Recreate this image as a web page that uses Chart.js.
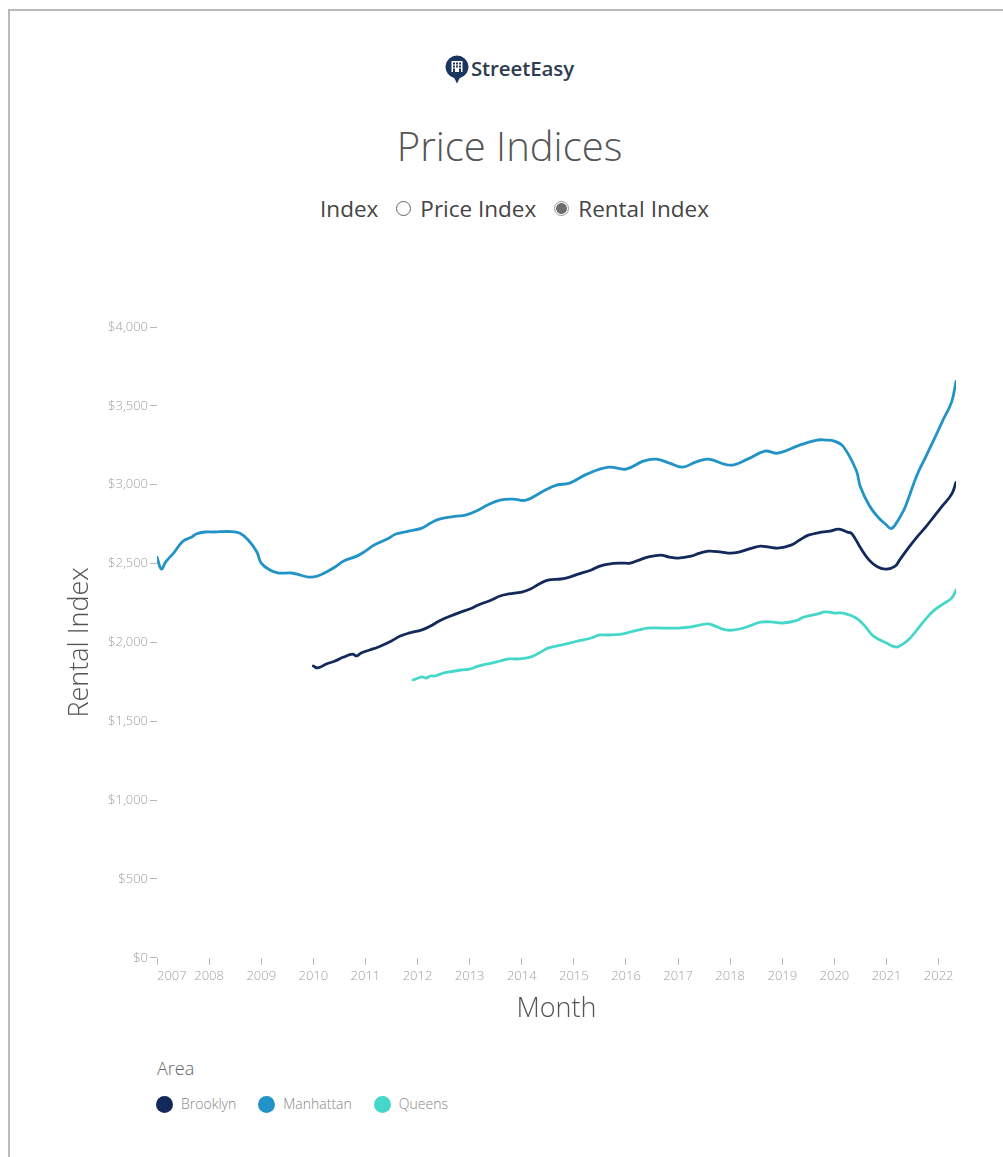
<!DOCTYPE html>
<html>
<head>
<meta charset="utf-8">
<title>Price Indices</title>
<script src="https://cdn.jsdelivr.net/npm/chart.js@4.4.0/dist/chart.umd.min.js"></script>
<style>
  html, body { margin: 0; padding: 0; background: #fff; overflow: hidden; }
  body { width: 1003px; height: 1157px; position: relative; font-family: "Open Sans", "Noto Sans", sans-serif; }
  .frame { position: absolute; left: 8px; top: 9px; width: 1100px; height: 1200px;
           border-top: 2px solid #b9b9b9; border-left: 2px solid #b9b9b9; }
  .brand { position: absolute; top: 52px; left: 8px; width: 1003px; height: 32px;
           display: flex; justify-content: center; align-items: center; }
  .brand svg { margin-right: 2px; margin-top: 3px; }
  .brand span { font-size: 20.5px; font-weight: 600; color: #2e3c50; letter-spacing: -0.1px; }
  .title { position: absolute; top: 122px; left: 8px; width: 1003px; text-align: center;
           font-size: 40px; line-height: 48px; font-weight: 300; color: #555; }
  .switch { position: absolute; top: 194px; left: 13px; width: 1003px; height: 28px;
            display: flex; justify-content: center; align-items: center;
            font-size: 22.5px; color: #444; }
  .switch .lbl { margin-right: 18px; }
  .radio { display: inline-block; width: 15px; height: 15px; border-radius: 50%;
           box-sizing: border-box; border: 1px solid #666; margin-right: 9px; background: #fff; }
  .radio.on { border: 1px solid #9a9a9a; background: radial-gradient(circle, #6f6f6f 0 5px, #fff 5.8px); }
  .opt { margin-right: 18px; }
  #chart { position: absolute; left: 0; top: 280px; }
  .legend-title { position: absolute; left: 157px; top: 1055px; font-size: 18px; font-weight: 300; color: #666; line-height: 26px; }
  .legend { position: absolute; left: 156px; top: 1094px; display: flex; align-items: center; }
  .legend .item { display: flex; align-items: center; margin-right: 22px; }
  .legend .dot { width: 17px; height: 17px; border-radius: 50%; margin-right: 8px; }
  .legend .name { font-size: 14px; font-weight: 300; color: #888; line-height: 20px; }
</style>
</head>
<body>
<div class="frame"></div>

<div class="brand">
  <svg width="24" height="29" viewBox="0 0 24 29" aria-hidden="true">
    <path d="M12 0.5a11.5 11.5 0 0 1 2.6 22.7L12 28.5l-2.6-5.3A11.5 11.5 0 0 1 12 0.5z" fill="#1c355e"/>
    <rect x="6.5" y="6" width="11" height="11" fill="#fff"/>
    <rect x="8" y="7.5" width="2" height="2" fill="#1c355e"/>
    <rect x="11" y="7.5" width="2" height="2" fill="#1c355e"/>
    <rect x="14" y="7.5" width="2" height="2" fill="#1c355e"/>
    <rect x="8" y="10.5" width="2" height="2" fill="#1c355e"/>
    <rect x="11" y="10.5" width="2" height="2" fill="#1c355e"/>
    <rect x="14" y="10.5" width="2" height="2" fill="#1c355e"/>
    <rect x="8" y="13.5" width="2" height="3.5" fill="#1c355e"/>
    <rect x="14" y="13.5" width="2" height="3.5" fill="#1c355e"/>
  </svg>
  <span>StreetEasy</span>
</div>

<div class="title">Price Indices</div>

<div class="switch">
  <span class="lbl">Index</span>
  <span class="radio"></span><span class="opt">Price Index</span>
  <span class="radio on"></span><span>Rental Index</span>
</div>

<canvas id="chart" width="1003" height="760"></canvas>

<div class="legend-title">Area</div>
<div class="legend" id="legend"></div>

<script>
// Monthly rental index readings (USD) per borough
const manhattanMonths = ['2007-01','2007-02','2007-03','2007-05','2007-07','2007-09','2007-10','2007-12',
  '2008-02','2008-06','2008-08','2008-10','2008-12',
  '2009-01','2009-03','2009-05','2009-08','2009-10','2009-12',
  '2010-02','2010-04','2010-06','2010-08','2010-11',
  '2011-01','2011-03','2011-06','2011-08','2011-11',
  '2012-02','2012-04','2012-06','2012-10','2012-12',
  '2013-03','2013-05','2013-08','2013-11',
  '2014-02','2014-06','2014-09','2014-12',
  '2015-04','2015-09',
  '2016-01','2016-05','2016-08','2016-11',
  '2017-02','2017-05','2017-08',
  '2018-01','2018-05','2018-09','2018-12',
  '2019-05','2019-09','2019-11',
  '2020-01','2020-03','2020-06','2020-07','2020-09','2020-11',
  '2021-01','2021-02','2021-03','2021-05','2021-06','2021-08','2021-10','2021-12',
  '2022-02','2022-04','2022-05'];
const manhattanValues = [2540,2465,2510,2573,2642,2668,2687,2700,
  2700,2703,2693,2649,2573,
  2503,2459,2440,2440,2427,2414,
  2421,2446,2478,2516,2547,
  2579,2617,2655,2687,2706,
  2725,2757,2782,2801,2807,
  2839,2870,2902,2908,
  2902,2960,2997,3010,
  3067,3111,
  3099,3150,3162,3137,
  3111,3143,3162,
  3124,3162,3213,3200,
  3251,3283,3283,
  3276,3244,3093,2985,2870,2795,
  2744,2722,2745,2840,2910,3060,3175,3290,
  3410,3525,3655];

const brooklynMonths = ['2010-01','2010-02','2010-04','2010-06','2010-08','2010-10','2010-11','2010-12',
  '2011-02','2011-04','2011-07','2011-09','2011-11',
  '2012-02','2012-04','2012-06','2012-08','2012-11',
  '2013-01','2013-03','2013-06','2013-08','2013-10',
  '2014-01','2014-03','2014-05','2014-07','2014-10','2014-12',
  '2015-02','2015-05','2015-07','2015-09','2015-12',
  '2016-02','2016-04','2016-06','2016-09','2016-11',
  '2017-01','2017-04','2017-06','2017-08','2017-11',
  '2018-01','2018-03','2018-06','2018-08','2018-10','2018-12',
  '2019-03','2019-05','2019-07','2019-10','2019-12',
  '2020-02','2020-04','2020-05','2020-07','2020-09','2020-11',
  '2021-01','2021-03','2021-04','2021-06','2021-08','2021-10','2021-12',
  '2022-02','2022-04','2022-05'];
const brooklynValues = [1850,1838,1863,1882,1907,1926,1914,1933,
  1952,1971,2009,2040,2059,
  2079,2104,2136,2161,2193,
  2212,2237,2269,2294,2307,
  2319,2338,2370,2395,2402,2414,
  2433,2459,2484,2497,2503,
  2503,2522,2541,2554,2541,
  2535,2547,2566,2579,2573,
  2566,2573,2598,2611,2604,2598,
  2617,2649,2680,2699,2706,
  2718,2699,2690,2600,2522,2478,
  2465,2484,2522,2598,2668,2731,2801,
  2870,2940,3015];

const queensMonths = ['2011-12',
  '2012-02','2012-03','2012-04','2012-05','2012-07','2012-08','2012-11',
  '2013-01','2013-03','2013-06','2013-08','2013-10','2013-12',
  '2014-03','2014-05','2014-07','2014-10','2014-12',
  '2015-02','2015-05','2015-07','2015-09','2015-12',
  '2016-02','2016-04','2016-06','2016-09','2016-11',
  '2017-01','2017-04','2017-06','2017-08','2017-10','2017-12',
  '2018-02','2018-04','2018-06','2018-08','2018-11',
  '2019-01','2019-04','2019-06','2019-09','2019-11',
  '2020-01','2020-03','2020-06','2020-08','2020-10',
  '2021-01','2021-03','2021-04','2021-06','2021-08','2021-10','2021-12',
  '2022-02','2022-04','2022-05'];
const queensValues = [1762,
  1781,1774,1787,1787,1806,1812,1825,
  1831,1850,1869,1882,1895,1895,
  1907,1933,1964,1983,1996,
  2009,2028,2047,2047,2053,
  2066,2079,2091,2091,2091,
  2091,2098,2110,2117,2098,2079,
  2079,2091,2110,2129,2129,
  2123,2136,2161,2180,2193,
  2186,2186,2155,2104,2040,
  1996,1971,1977,2015,2079,2148,2205,
  2243,2281,2332];

const areaNames = ['Brooklyn', 'Manhattan', 'Queens'];
const areaColors = ['#13295a', '#2193c6', '#45d7c9'];

const xTickYears = [2007,2008,2009,2010,2011,2012,2013,2014,2015,2016,2017,2018,2019,2020,2021,2022];
const yTickValues = [0,500,1000,1500,2000,2500,3000,3500,4000];

const xStart = 2007;
const xEnd = 2022 + 4 / 12;

function monthToYear(m) {
  const [y, mo] = m.split('-').map(Number);
  return y + (mo - 1) / 12;
}
function toPoints(months, values) {
  return months.map((m, i) => ({ x: monthToYear(m), y: values[i] }));
}

const seriesData = [
  toPoints(brooklynMonths, brooklynValues),
  toPoints(manhattanMonths, manhattanValues),
  toPoints(queensMonths, queensValues)
];

const tickFont = { family: 'Open Sans', size: 13, weight: '300' };
const tickColor = '#a0a0a0';
const tickMarkColor = '#b8b8b8';

const chart = new Chart(document.getElementById('chart'), {
  type: 'line',
  data: {
    datasets: areaNames.map((name, i) => ({
      label: name,
      data: seriesData[i],
      borderColor: areaColors[i],
      backgroundColor: areaColors[i],
      borderWidth: 2.8,
      pointRadius: 0,
      pointHoverRadius: 0,
      tension: 0.4,
      borderCapStyle: 'round',
      borderJoinStyle: 'round',
      fill: false
    }))
  },
  options: {
    responsive: false,
    animation: false,
    devicePixelRatio: 1,
    layout: { padding: { left: 64, right: 47, top: 47, bottom: 14 } },
    plugins: {
      legend: { display: false },
      tooltip: { enabled: false }
    },
    scales: {
      x: {
        type: 'linear',
        min: xStart,
        max: xEnd,
        afterBuildTicks: (scale) => {
          scale.ticks = xTickYears.map(v => ({ value: v })).concat([{ value: xEnd }]);
        },
        afterFit: (scale) => { scale.height = 68.2; },
        ticks: {
          align: 'inner',
          autoSkip: false,
          maxRotation: 0,
          padding: 4,
          color: tickColor,
          font: tickFont,
          callback: (value, index) => index < xTickYears.length ? String(xTickYears[index]) : ''
        },
        grid: {
          drawOnChartArea: false,
          drawTicks: true,
          tickLength: 7,
          tickWidth: 1,
          tickColor: (ctx) => ctx.index < xTickYears.length ? tickMarkColor : 'rgba(0,0,0,0)'
        },
        border: { display: false },
        title: {
          display: true,
          text: 'Month',
          color: '#555',
          font: { family: 'Open Sans', size: 27, weight: '300' },
          padding: { top: 0, bottom: 0 }
        }
      },
      y: {
        min: 0,
        max: 4000,
        afterBuildTicks: (scale) => {
          scale.ticks = yTickValues.map(v => ({ value: v }));
        },
        afterFit: (scale) => { scale.width = 93; },
        ticks: {
          padding: 2,
          color: tickColor,
          font: tickFont,
          callback: (value) => '$' + Number(value).toLocaleString('en-US')
        },
        grid: {
          drawOnChartArea: false,
          drawTicks: true,
          tickLength: 7,
          tickWidth: 1,
          tickColor: tickMarkColor
        },
        border: { display: false },
        title: {
          display: true,
          text: 'Rental Index',
          color: '#555',
          font: { family: 'Open Sans', size: 27, weight: '300' },
          padding: { top: 0, bottom: 0 }
        }
      }
    }
  }
});

// Area legend built from the chart's datasets
const legendEl = document.getElementById('legend');
chart.data.datasets.forEach(ds => {
  const item = document.createElement('div');
  item.className = 'item';
  const dot = document.createElement('span');
  dot.className = 'dot';
  dot.style.background = ds.borderColor;
  const name = document.createElement('span');
  name.className = 'name';
  name.textContent = ds.label;
  item.appendChild(dot);
  item.appendChild(name);
  legendEl.appendChild(item);
});
</script>
</body>
</html>
